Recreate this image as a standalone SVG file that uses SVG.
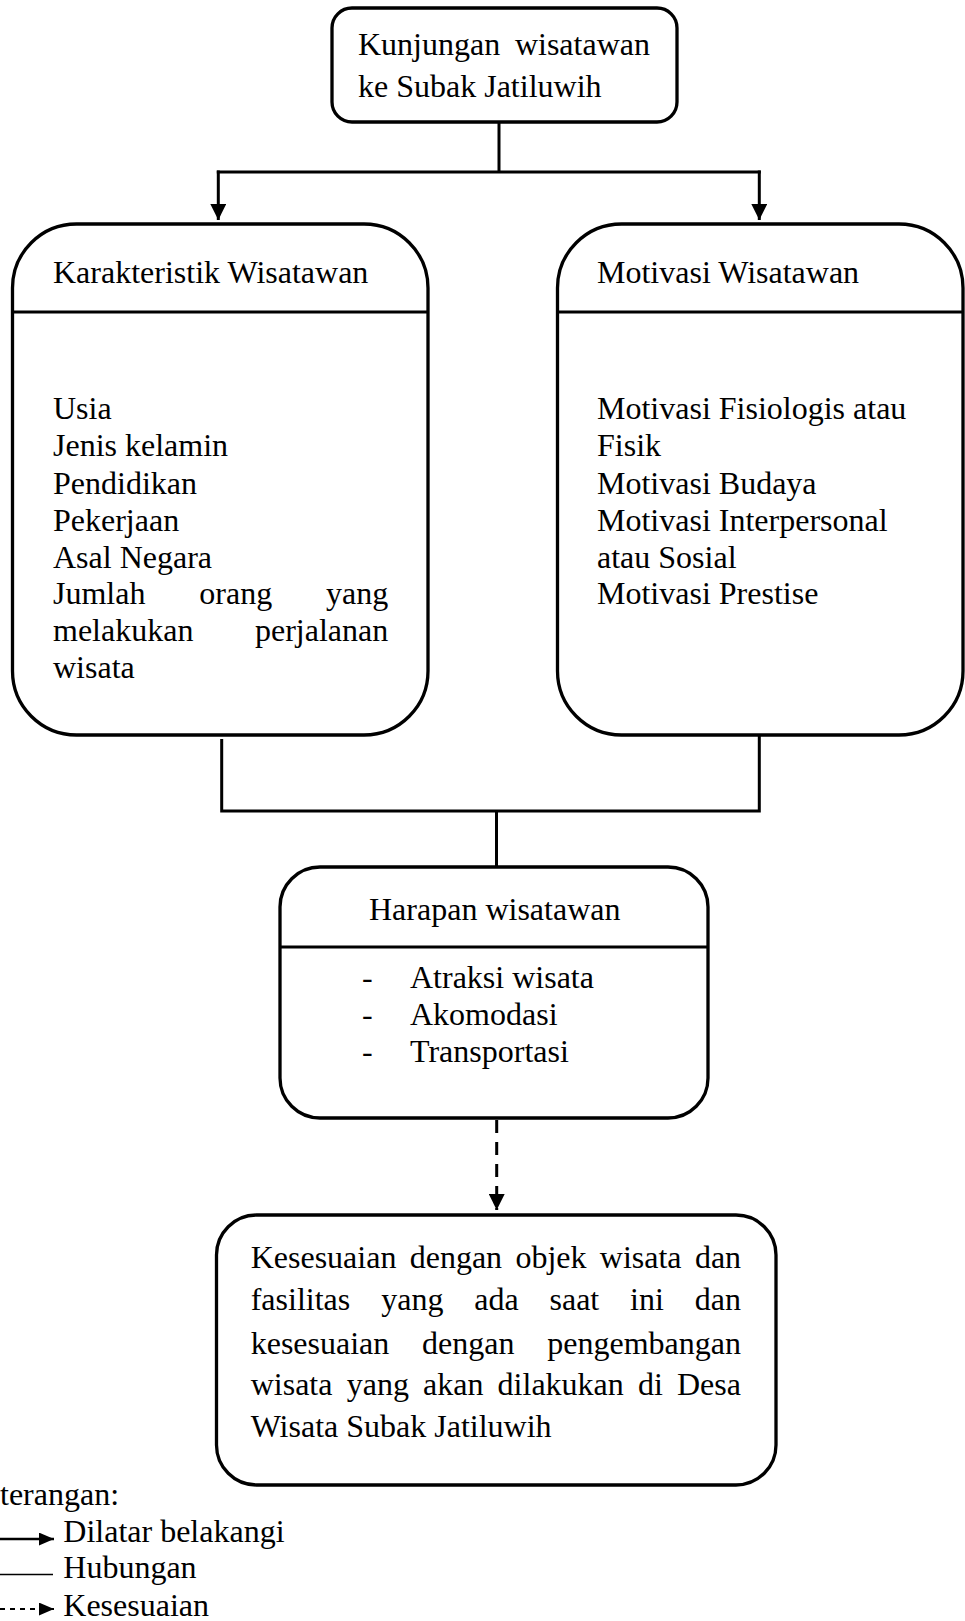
<svg xmlns="http://www.w3.org/2000/svg" width="965" height="1621" viewBox="0 0 965 1621">
<defs>
<style>
text{font-family:"Liberation Serif","Times New Roman",serif;font-size:32px;fill:#000}
.box{fill:#fff;stroke:#000;stroke-width:3.3}
.ln{fill:none;stroke:#000;stroke-width:3}
.dash{fill:none;stroke:#000;stroke-width:3;stroke-dasharray:13 9}
</style>
<marker id="arr" markerUnits="userSpaceOnUse" markerWidth="16" markerHeight="16" refX="15" refY="7.5" orient="auto" viewBox="0 0 15 15">
<path d="M0,0 L15,7.5 L0,15 z" fill="#000"/>
</marker>
<marker id="arrS" markerUnits="userSpaceOnUse" markerWidth="15" markerHeight="13" refX="14" refY="6" orient="auto" viewBox="0 0 14 12">
<path d="M0,0 L14,6 L0,12 z" fill="#000"/>
</marker>
</defs>
<rect width="965" height="1621" fill="#fff"/>

<g id="connectors">
<line class="ln" x1="499" y1="122" x2="499" y2="172"/>
<line class="ln" x1="216.8" y1="172" x2="760.8" y2="172"/>
<line class="ln" x1="218.3" y1="170.5" x2="218.3" y2="220" marker-end="url(#arr)"/>
<line class="ln" x1="759.3" y1="170.5" x2="759.3" y2="220" marker-end="url(#arr)"/>
<polyline class="ln" points="221.7,739 221.7,811 759.3,811 759.3,735"/>
<line class="ln" x1="496.5" y1="811" x2="496.5" y2="867"/>
<line class="dash" x1="496.7" y1="1120" x2="496.7" y2="1210" marker-end="url(#arr)"/>
</g>

<g id="node-kunjungan">
<rect class="box" x="332" y="8" width="345" height="114" rx="20"/>
<text x="358" y="55">Kunjungan<tspan x="514.9">wisatawan</tspan></text>
<text x="358" y="97">ke Subak Jatiluwih</text>
</g>

<g id="node-karakteristik">
<rect class="box" x="12.5" y="224" width="415.5" height="511" rx="64"/>
<line class="ln" x1="12.5" y1="312" x2="428" y2="312"/>
<text x="53" y="283">Karakteristik Wisatawan</text>
<text x="53" y="419">Usia</text>
<text x="53" y="456">Jenis kelamin</text>
<text x="53" y="494">Pendidikan</text>
<text x="53" y="531">Pekerjaan</text>
<text x="53" y="568">Asal Negara</text>
<text x="53" y="604">Jumlah<tspan x="199.3">orang</tspan><tspan x="326.1">yang</tspan></text>
<text x="53" y="641">melakukan<tspan x="255">perjalanan</tspan></text>
<text x="53" y="678">wisata</text>
</g>

<g id="node-motivasi">
<rect class="box" x="557.5" y="224" width="405.5" height="511" rx="64"/>
<line class="ln" x1="557.5" y1="312" x2="963" y2="312"/>
<text x="597" y="283">Motivasi Wisatawan</text>
<text x="597" y="419">Motivasi Fisiologis atau</text>
<text x="597" y="456">Fisik</text>
<text x="597" y="494">Motivasi Budaya</text>
<text x="597" y="531">Motivasi Interpersonal</text>
<text x="597" y="568">atau Sosial</text>
<text x="597" y="604">Motivasi Prestise</text>
</g>

<g id="node-harapan">
<rect class="box" x="280" y="867" width="428" height="251" rx="40"/>
<line class="ln" x1="280" y1="947" x2="708" y2="947"/>
<text x="369" y="920">Harapan wisatawan</text>
<text x="362" y="988">-</text><text x="410" y="988">Atraksi wisata</text>
<text x="362" y="1025">-</text><text x="410" y="1025">Akomodasi</text>
<text x="362" y="1062">-</text><text x="410" y="1062">Transportasi</text>
</g>

<g id="node-kesesuaian">
<rect class="box" x="216.5" y="1215" width="559.5" height="270" rx="40"/>
<text y="1268"><tspan x="250.7">Kesesuaian</tspan><tspan x="409.7">dengan</tspan><tspan x="515.4">objek</tspan><tspan x="599.8">wisata</tspan><tspan x="694.9">dan</tspan></text>
<text y="1310"><tspan x="250.7">fasilitas</tspan><tspan x="381.2">yang</tspan><tspan x="474.2">ada</tspan><tspan x="549.5">saat</tspan><tspan x="630.1">ini</tspan><tspan x="694.8">dan</tspan></text>
<text y="1354"><tspan x="250.7">kesesuaian</tspan><tspan x="422.1">dengan</tspan><tspan x="547.3">pengembangan</tspan></text>
<text y="1395"><tspan x="250.7">wisata</tspan><tspan x="346.7">yang</tspan><tspan x="423">akan</tspan><tspan x="497.6">dilakukan</tspan><tspan x="637.9">di</tspan><tspan x="677">Desa</tspan></text>
<text x="250.7" y="1437">Wisata Subak Jatiluwih</text>
</g>

<g id="legend">
<text x="0" y="1505">terangan:</text>
<line x1="0" y1="1539" x2="54" y2="1539" stroke="#000" stroke-width="2.5" marker-end="url(#arrS)"/>
<text x="63.3" y="1542">Dilatar belakangi</text>
<line x1="0" y1="1574.5" x2="53" y2="1574.5" stroke="#000" stroke-width="1.6"/>
<text x="63.3" y="1578">Hubungan</text>
<line x1="0" y1="1609" x2="54" y2="1609" stroke="#000" stroke-width="2" stroke-dasharray="5 5" marker-end="url(#arrS)"/>
<text x="63.3" y="1616">Kesesuaian</text>
</g>
</svg>
